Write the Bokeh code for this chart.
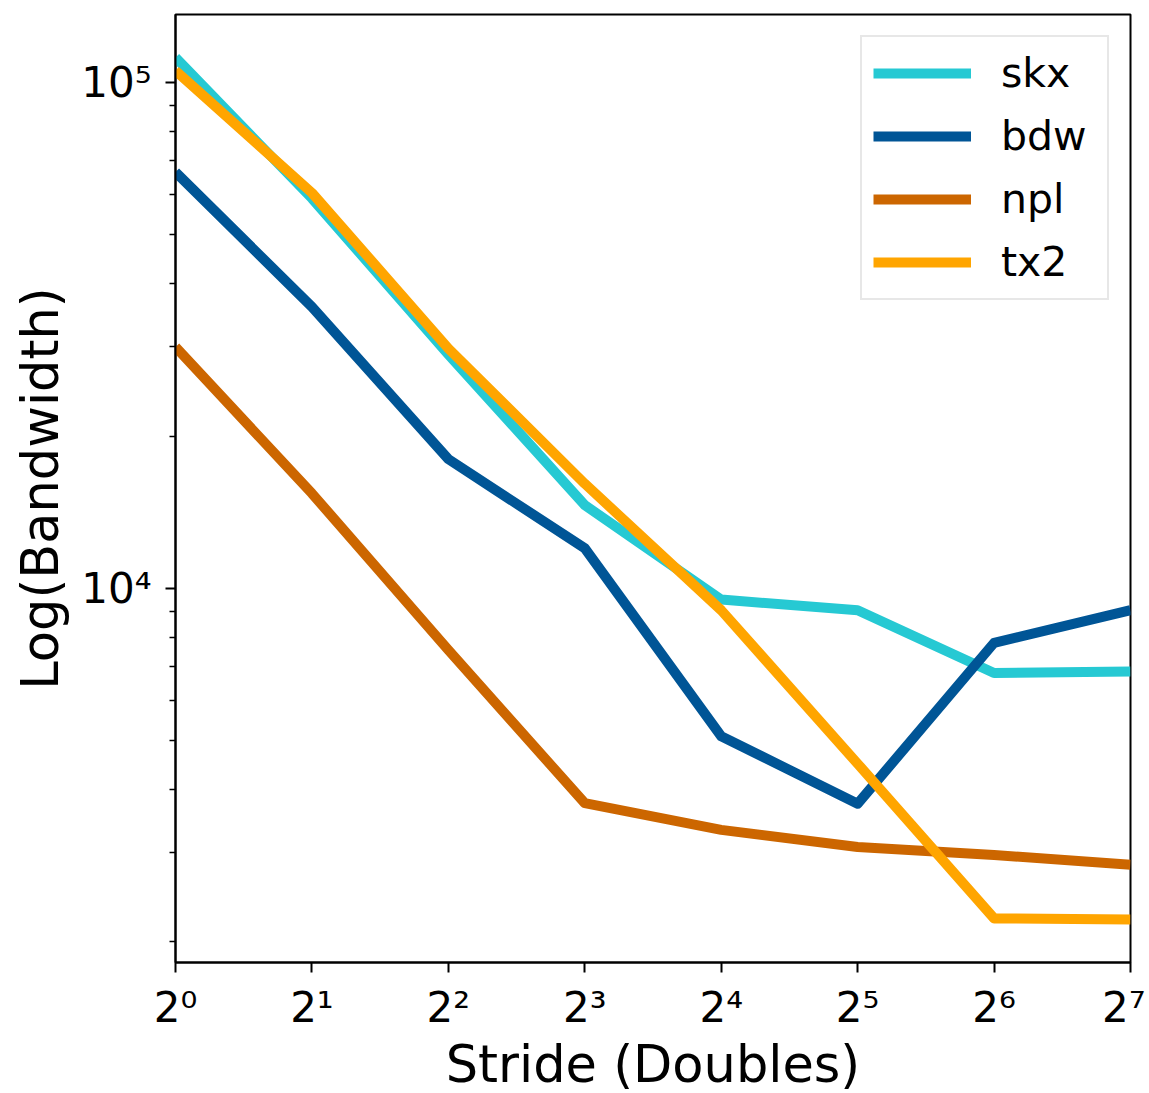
import math
from bokeh.plotting import figure
from bokeh.models import Range1d, FixedTicker, Legend, LegendItem
from bokeh.embed import file_html
from bokeh.resources import INLINE

# ---- data ----
stride = [1, 2, 4, 8, 16, 32, 64, 128]
skx = [112000, 59000, 29000, 14600, 9500, 9050, 6800, 6850]
bdw = [66500, 36000, 18000, 12000, 5100, 3750, 7800, 9050]
npl = [30000, 15400, 7550, 3760, 3330, 3080, 2970, 2840]
tx2 = [105500, 60500, 29800, 16100, 9050, 4500, 2225, 2215]

series_names = ["skx", "bdw", "npl", "tx2"]
series_values = [skx, bdw, npl, tx2]
series_colors = ["#26C9D3", "#005596", "#CC6600", "#FFA500"]

x_tick_labels = {1: "2\u2070", 2: "2\u00b9", 4: "2\u00b2", 8: "2\u00b3",
                 16: "2\u2074", 32: "2\u2075", 64: "2\u2076", 128: "2\u2077"}
y_tick_labels = {10000: "10\u2074", 100000: "10\u2075"}
y_minor = [2000, 3000, 4000, 5000, 6000, 7000, 8000, 9000,
           20000, 30000, 40000, 50000, 60000, 70000, 80000, 90000]

# y range like matplotlib autoscale (5% margin in log space)
all_vals = [v for s in series_values for v in s]
lo, hi = math.log10(min(all_vals)), math.log10(max(all_vals))
span = hi - lo
y_lo, y_hi = 10 ** (lo - 0.05 * span), 10 ** (hi + 0.05 * span)

FONT = "DejaVu Sans"

p = figure(frame_width=955, frame_height=948,
           x_axis_type="log", y_axis_type="log",
           x_range=Range1d(1, 128), y_range=Range1d(y_lo, y_hi),
           output_backend="svg", toolbar_location=None,
           min_border_left=175, min_border_right=15,
           min_border_top=14, min_border_bottom=100)

p.xgrid.visible = False
p.ygrid.visible = False
p.outline_line_color = "black"
p.outline_line_width = 2
p.outline_line_alpha = 1.0

renderers = []
for name, vals, col in zip(series_names, series_values, series_colors):
    r = p.line(stride, vals, line_color=col, line_width=10,
               line_join="round", line_cap="butt")
    renderers.append((name, r))

# axes
p.xaxis.ticker = FixedTicker(ticks=stride, minor_ticks=[])
p.xaxis.major_label_overrides = x_tick_labels
p.yaxis.ticker = FixedTicker(ticks=[10000, 100000], minor_ticks=y_minor)
p.yaxis.major_label_overrides = y_tick_labels

for ax in (p.xaxis, p.yaxis):
    ax.axis_line_color = "black"
    ax.axis_line_width = 2
    ax.major_tick_line_color = "black"
    ax.major_tick_line_width = 2
    ax.major_tick_out = 10
    ax.major_tick_in = 0
    ax.minor_tick_line_color = "black"
    ax.minor_tick_line_width = 1.5
    ax.minor_tick_out = 6
    ax.minor_tick_in = 0
    ax.major_label_text_font = FONT
    ax.major_label_text_font_size = "42px"
    ax.major_label_text_color = "black"
    ax.axis_label_text_font = FONT
    ax.axis_label_text_font_size = "51px"
    ax.axis_label_text_font_style = "normal"
    ax.axis_label_text_color = "black"

p.xaxis.axis_label = "Stride (Doubles)"
p.yaxis.axis_label = "Log(Bandwidth)"
p.xaxis.major_label_standoff = 10
p.xaxis.axis_label_standoff = 0
p.yaxis.major_label_standoff = 14
p.yaxis.axis_label_standoff = 8

legend = Legend(items=[LegendItem(label=n, renderers=[r]) for n, r in renderers],
                location="top_right")
legend.label_text_font = FONT
legend.label_text_font_size = "41px"
legend.label_text_color = "black"
legend.glyph_width = 98
legend.glyph_height = 50
legend.label_height = 50
legend.label_width = 95
legend.label_standoff = 30
legend.spacing = 13
legend.padding = 11
legend.margin = 21
legend.border_line_color = "#d0d0d0"
legend.border_line_width = 2
legend.background_fill_alpha = 0.9
p.add_layout(legend)

open("out.html", "w").write(file_html(p, INLINE))
